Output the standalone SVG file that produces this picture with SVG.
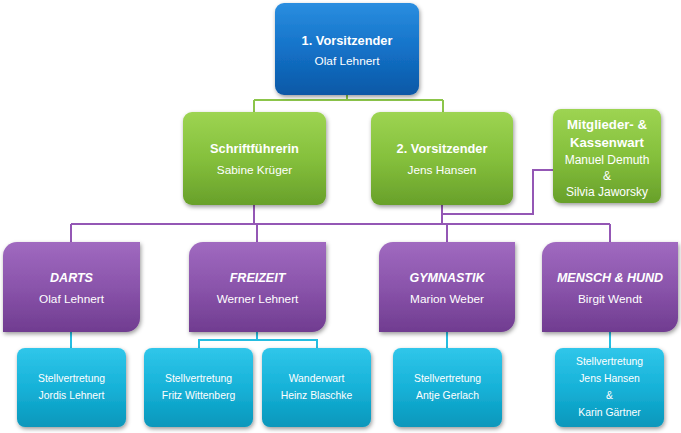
<svg xmlns="http://www.w3.org/2000/svg" width="681" height="433" viewBox="0 0 681 433">
<defs>
<linearGradient id="gBlue" x1="0" y1="0" x2="0" y2="1"><stop offset="0" stop-color="#2a8ee0"/><stop offset="0.5" stop-color="#1472c8"/><stop offset="1" stop-color="#0a58a6"/></linearGradient>
<linearGradient id="gGreen" x1="0" y1="0" x2="0" y2="1"><stop offset="0" stop-color="#9dd452"/><stop offset="0.5" stop-color="#85c03c"/><stop offset="1" stop-color="#68a02a"/></linearGradient>
<linearGradient id="gPurple" x1="0" y1="0" x2="0" y2="1"><stop offset="0" stop-color="#a06ac0"/><stop offset="0.5" stop-color="#8a54ab"/><stop offset="1" stop-color="#703c90"/></linearGradient>
<linearGradient id="gCyan" x1="0" y1="0" x2="0" y2="1"><stop offset="0" stop-color="#30c6ea"/><stop offset="0.5" stop-color="#17b2d8"/><stop offset="1" stop-color="#0897bb"/></linearGradient>
<filter id="sh" x="-10%" y="-10%" width="125%" height="130%"><feDropShadow dx="1" dy="2" stdDeviation="2" flood-color="#000" flood-opacity="0.4"/></filter>
</defs>
<style>
.t{font-family:"Liberation Sans",Arial,sans-serif;fill:#fff;text-anchor:middle}
.b{font-weight:bold;font-size:12.8px}
.bi{font-weight:bold;font-style:italic;font-size:12.5px}
.n{font-size:11.8px}
.s{font-size:10.4px}
.blue{fill:url(#gBlue);filter:url(#sh)}
.green{fill:url(#gGreen);filter:url(#sh)}
.purple{fill:url(#gPurple);filter:url(#sh)}
.cyan{fill:url(#gCyan);filter:url(#sh)}
.cg{fill:none;stroke:#8cc54a;stroke-width:2}
.cp{fill:none;stroke:#9457b5;stroke-width:2}
.cc{fill:none;stroke:#25bde0;stroke-width:2}
</style>
<g id="connectors">
<path class="cg" d="M347,95 V100 M254,100 H443 M254,100 V112 M443,100 V112"/>
<path class="cp" d="M254,205 V224 M71,224 H610 M442,205 V224 M442,214 H533 V170 H553 M71,224 V242 M257,224 V242 M447,224 V242 M610,224 V242"/>
<path class="cc" d="M71,332 V348 M257,332 V340 M199,348 V340 H317 V348 M447,332 V348 M610,332 V348"/>
</g>
<g id="n-vorsitz1">
<rect class="blue" x="275" y="3" width="144" height="92" rx="9"/>
<text class="t b" x="347" y="45">1. Vorsitzender</text>
<text class="t n" x="347" y="65">Olaf Lehnert</text>
</g>
<g id="n-schrift">
<rect class="green" x="183" y="112" width="143" height="93" rx="9"/>
<text class="t b" x="254.5" y="153">Schriftführerin</text>
<text class="t n" x="254.5" y="174">Sabine Krüger</text>
</g>
<g id="n-vorsitz2">
<rect class="green" x="371" y="112" width="142" height="93" rx="9"/>
<text class="t b" x="442" y="153">2. Vorsitzender</text>
<text class="t n" x="442" y="174">Jens Hansen</text>
</g>
<g id="n-kasse">
<rect class="green" x="553" y="109" width="108" height="94" rx="8"/>
<text class="t b" x="607" y="129" style="font-size:13.2px">Mitglieder- &amp;</text>
<text class="t b" x="607" y="147" style="font-size:13.2px">Kassenwart</text>
<text class="t n" x="607" y="164" style="font-size:12px">Manuel Demuth</text>
<text class="t n" x="607" y="180" style="font-size:12px">&amp;</text>
<text class="t n" x="607" y="196" style="font-size:12px">Silvia Jaworsky</text>
</g>
<g id="n-darts">
<path class="purple" d="M17,242 H140 V318 A14 14 0 0 1 126,332 H3 V256 A14 14 0 0 1 17,242 Z"/>
<text class="t bi" x="71.5" y="282">DARTS</text>
<text class="t n" x="71.5" y="303">Olaf Lehnert</text>
</g>
<g id="n-freizeit">
<path class="purple" d="M203,242 H326 V318 A14 14 0 0 1 312,332 H189 V256 A14 14 0 0 1 203,242 Z"/>
<text class="t bi" x="257.5" y="282">FREIZEIT</text>
<text class="t n" x="257.5" y="303">Werner Lehnert</text>
</g>
<g id="n-gym">
<path class="purple" d="M393,242 H515 V318 A14 14 0 0 1 501,332 H379 V256 A14 14 0 0 1 393,242 Z"/>
<text class="t bi" x="447" y="282">GYMNASTIK</text>
<text class="t n" x="447" y="303">Marion Weber</text>
</g>
<g id="n-hund">
<path class="purple" d="M556,242 H678 V318 A14 14 0 0 1 664,332 H542 V256 A14 14 0 0 1 556,242 Z"/>
<text class="t bi" x="610" y="282">MENSCH &amp; HUND</text>
<text class="t n" x="610" y="303">Birgit Wendt</text>
</g>
<g id="n-jordis">
<rect class="cyan" x="17" y="348" width="109" height="79" rx="8"/>
<text class="t s" x="71.5" y="382">Stellvertretung</text>
<text class="t s" x="71.5" y="399">Jordis Lehnert</text>
</g>
<g id="n-fritz">
<rect class="cyan" x="144" y="348" width="109" height="79" rx="8"/>
<text class="t s" x="198.5" y="382">Stellvertretung</text>
<text class="t s" x="198.5" y="399">Fritz Wittenberg</text>
</g>
<g id="n-heinz">
<rect class="cyan" x="262" y="348" width="109" height="79" rx="8"/>
<text class="t s" x="316.5" y="382">Wanderwart</text>
<text class="t s" x="316.5" y="399">Heinz Blaschke</text>
</g>
<g id="n-antje">
<rect class="cyan" x="393" y="348" width="109" height="79" rx="8"/>
<text class="t s" x="447.5" y="382">Stellvertretung</text>
<text class="t s" x="447.5" y="399">Antje Gerlach</text>
</g>
<g id="n-karin">
<rect class="cyan" x="555" y="348" width="109" height="79" rx="8"/>
<text class="t s" x="609.5" y="365">Stellvertretung</text>
<text class="t s" x="609.5" y="382">Jens Hansen</text>
<text class="t s" x="609.5" y="399">&amp;</text>
<text class="t s" x="609.5" y="416">Karin Gärtner</text>
</g>
</svg>
